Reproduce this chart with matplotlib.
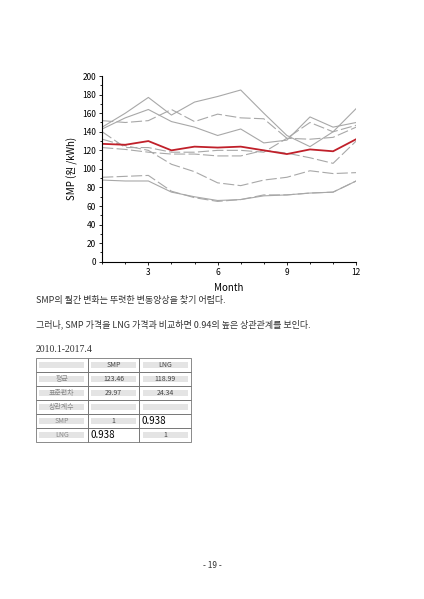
import matplotlib
matplotlib.use("Agg")
import matplotlib.pyplot as plt
from matplotlib.ticker import MultipleLocator

plt.rcParams['font.family'] = ['Noto Sans CJK KR', 'DejaVu Sans']

months = list(range(1, 13))
red = [127, 126, 130, 120, 124, 123, 124, 120, 116, 121, 119, 132]
gray_solid = [
    [145, 160, 177, 158, 172, 178, 185, 160, 136, 124, 140, 165],
    [143, 155, 164, 151, 145, 136, 143, 128, 131, 156, 145, 150],
    [88, 87, 87, 75, 70, 66, 67, 71, 72, 74, 75, 87],
]
gray_dash = [
    [152, 150, 152, 164, 151, 159, 155, 154, 133, 150, 140, 147],
    [140, 123, 123, 118, 118, 120, 120, 118, 133, 132, 134, 145],
    [132, 125, 120, 105, 97, 85, 82, 88, 91, 98, 95, 96],
    [123, 121, 118, 116, 116, 114, 114, 120, 117, 112, 106, 130],
    [91, 92, 93, 76, 69, 65, 67, 72, 72, 74, 75, 87],
]
text1 = "SMP의 월간 변화는 뚜렷한 변동양상을 찾기 어렵다."
text2 = "그러나, SMP 가격을 LNG 가격과 비교하면 0.94의 높은 상관관계를 보인다."
period = "2010.1-2017.4"
table_rows = [["", "SMP", "LNG"], ["평균", "123.46", "118.99"], ["표준편차", "29.97", "24.34"],
              ["상관계수", "", ""], ["SMP", "1", "0.938"], ["LNG", "0.938", "1"]]

fig = plt.figure(figsize=(4.24, 5.99), dpi=100)
ax = fig.add_axes([0.241, 0.563, 0.599, 0.31])
for s in gray_solid:
    ax.plot(months, s, color='#a8a8a8', lw=0.8)
for s in gray_dash:
    ax.plot(months, s, color='#a8a8a8', lw=0.8, dashes=(10, 3))
ax.plot(months, red, color='#c0202a', lw=1.3)
ax.set_xlim(1, 12); ax.set_ylim(0, 200)
ax.set_xticks([3, 6, 9, 12]); ax.xaxis.set_minor_locator(MultipleLocator(1))
ax.yaxis.set_major_locator(MultipleLocator(20)); ax.yaxis.set_minor_locator(MultipleLocator(10))
ax.tick_params(labelsize=6, length=2.5, width=0.6, pad=2)
ax.tick_params(which='minor', length=1.5)
ax.set_xlabel("Month", fontsize=7, labelpad=4)
ax.set_ylabel("SMP (원 /kWh)", fontsize=7, labelpad=3)
for sp in ['top', 'right']:
    ax.spines[sp].set_visible(False)

fig.text(36/424, 1-300/599, text1, fontsize=6.5, va='center', color='#333')
fig.text(36/424, 1-324/599, text2, fontsize=6.5, va='center', color='#333')
fig.text(36/424, 1-349/599, period, fontsize=7, va='center', color='#333', family=['Liberation Serif'])

# table
x0, x1 = 36/424, 191/424
cw = (x1 - x0) / 3
y_top = 1 - 358/599
rh = 14/599
for r, row in enumerate(table_rows):
    for c, val in enumerate(row):
        cx = x0 + c*cw; cy = y_top - (r+1)*rh
        fig.patches.append(plt.Rectangle((cx, cy), cw, rh, transform=fig.transFigure,
                                         fill=False, ec='#777', lw=0.6))
        big = val == "0.938"
        if not big:
            fig.patches.append(plt.Rectangle((cx+0.008, cy+0.006), cw-0.016, rh-0.012,
                                             transform=fig.transFigure, fc='#e4e4e4', ec='none'))
        if val:
            if big:
                fig.text(cx+0.006, cy+rh/2, val, fontsize=7, va='center', ha='left')
            else:
                fig.text(cx+cw/2, cy+rh/2, val, fontsize=5, va='center', ha='center',
                         color='#888' if c == 0 else '#444')

fig.text(0.5, 1-566/599, "- 19 -", fontsize=6, ha='center', va='center', color='#333')
fig.savefig("out.png", dpi=100)
